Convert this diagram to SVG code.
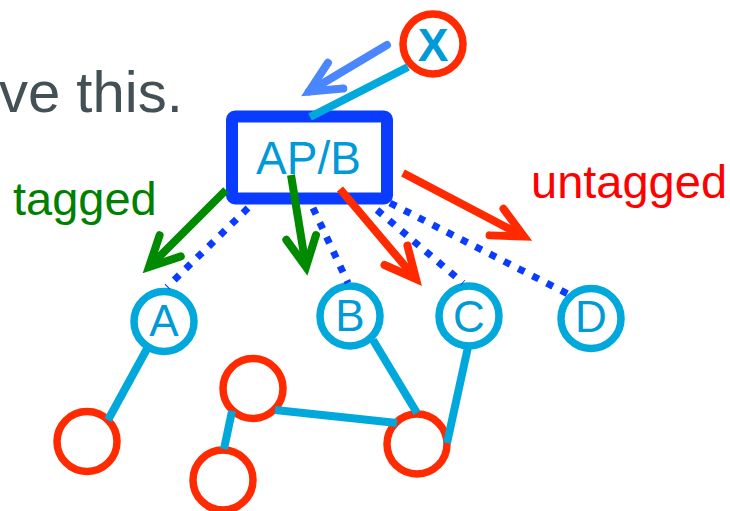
<svg xmlns="http://www.w3.org/2000/svg" width="730" height="511" viewBox="0 0 730 511">
  <style>
    .lbl { font-family: "Liberation Sans", Arial, sans-serif; }
    .ring-blue { fill: #ffffff; stroke: #00a8dc; stroke-width: 7.5; }
    .ring-red { fill: #ffffff; stroke: #ff2a00; stroke-width: 7.5; }
    .letter { font-family: "Liberation Sans", Arial, sans-serif; font-size: 44px; fill: #009ad6; text-anchor: middle; }
    .link { stroke: #00a8dc; stroke-width: 8; fill: none; }
    .dots { stroke: #0a3cff; stroke-width: 7; stroke-dasharray: 7 9; fill: none; }
    .arrow-green { stroke: #008a00; stroke-width: 8; fill: none; marker-end: url(#head-green); }
    .arrow-red { stroke: #ff2a00; stroke-width: 8; fill: none; marker-end: url(#head-red); }
    .arrow-blue { stroke: #4a86ff; stroke-width: 8; fill: none; stroke-linecap: round; marker-end: url(#head-blue); }
  </style>
  <defs>
    <marker id="head-green" markerUnits="userSpaceOnUse" orient="auto" overflow="visible" markerWidth="1" markerHeight="1" refX="0" refY="0">
      <path d="M -30 -15 L 0 0 L -30 15" fill="none" stroke="#008a00" stroke-width="8" stroke-linecap="round" stroke-linejoin="miter"/>
    </marker>
    <marker id="head-red" markerUnits="userSpaceOnUse" orient="auto" overflow="visible" markerWidth="1" markerHeight="1" refX="0" refY="0">
      <path d="M -31 -15 L 0 0 L -31 15" fill="none" stroke="#ff2a00" stroke-width="8" stroke-linecap="round" stroke-linejoin="miter"/>
    </marker>
    <marker id="head-blue" markerUnits="userSpaceOnUse" orient="auto" overflow="visible" markerWidth="1" markerHeight="1" refX="0" refY="0">
      <path d="M -31 -15 L 0 0 L -31 15" fill="none" stroke="#4a86ff" stroke-width="8" stroke-linecap="round" stroke-linejoin="miter"/>
    </marker>
  </defs>

  <rect x="0" y="0" width="730" height="511" fill="#ffffff"/>

  <!-- captions -->
  <text class="lbl" x="-1" y="112" font-size="58" fill="#435055">ve this.</text>
  <text class="lbl" x="13" y="215" font-size="47" fill="#008000">tagged</text>
  <text class="lbl" x="531" y="198" font-size="47" fill="#ff0000">untagged</text>

  <!-- nodes -->
  <g id="node-x">
    <circle class="ring-red" cx="433" cy="44" r="30"/>
    <text class="lbl" x="433" y="61" font-size="46" font-weight="bold" fill="#009ad6" text-anchor="middle">X</text>
  </g>
  <g id="node-apb">
    <rect x="232" y="116.5" width="155" height="82" rx="3" fill="#ffffff" stroke="#0a3cff" stroke-width="12"/>
    <text class="lbl" x="308.5" y="174" font-size="46" fill="#009ad6" text-anchor="middle">AP/B</text>
  </g>
  <g id="node-a">
    <circle class="ring-blue" cx="164" cy="321.5" r="30"/>
    <text class="letter" x="164" y="336">A</text>
  </g>
  <g id="node-b">
    <circle class="ring-blue" cx="350" cy="316" r="30"/>
    <text class="letter" x="350" y="331">B</text>
  </g>
  <g id="node-c">
    <circle class="ring-blue" cx="469" cy="316" r="30"/>
    <text class="letter" x="469" y="332">C</text>
  </g>
  <g id="node-d">
    <circle class="ring-blue" cx="591" cy="318.5" r="30"/>
    <text class="letter" x="591" y="332">D</text>
  </g>
  <g id="node-r1"><circle class="ring-red" cx="87" cy="441.5" r="30"/></g>
  <g id="node-r2"><circle class="ring-red" cx="253" cy="388.5" r="30"/></g>
  <g id="node-r3"><circle class="ring-red" cx="223" cy="480" r="30"/></g>
  <g id="node-r4"><circle class="ring-red" cx="417" cy="444" r="30"/></g>

  <!-- connectors -->
  <g id="connectors">
    <line class="link" x1="408" y1="67" x2="310" y2="117"/>
    <line class="arrow-blue" x1="387" y1="45" x2="309" y2="91.5"/>

    <line class="dots" x1="248" y1="208" x2="167" y2="287"/>
    <line class="dots" x1="313" y1="208" x2="348" y2="283"/>
    <line class="dots" x1="377" y1="210" x2="463" y2="283"/>
    <line class="dots" x1="390" y1="203" x2="570" y2="295"/>

    <line class="arrow-green" x1="226" y1="190" x2="149" y2="267"/>
    <line class="arrow-green" x1="291" y1="175" x2="306" y2="267"/>
    <line class="arrow-red" x1="340" y1="189" x2="416" y2="279"/>
    <line class="arrow-red" x1="403" y1="173" x2="524" y2="236.5"/>

    <line class="link" x1="148" y1="347" x2="108" y2="420"/>
    <line class="link" x1="232" y1="411" x2="224" y2="449"/>
    <line class="link" x1="275" y1="410" x2="397" y2="423"/>
    <line class="link" x1="373" y1="340" x2="417" y2="413"/>
    <line class="link" x1="468" y1="347" x2="447" y2="443"/>
  </g>
</svg>
